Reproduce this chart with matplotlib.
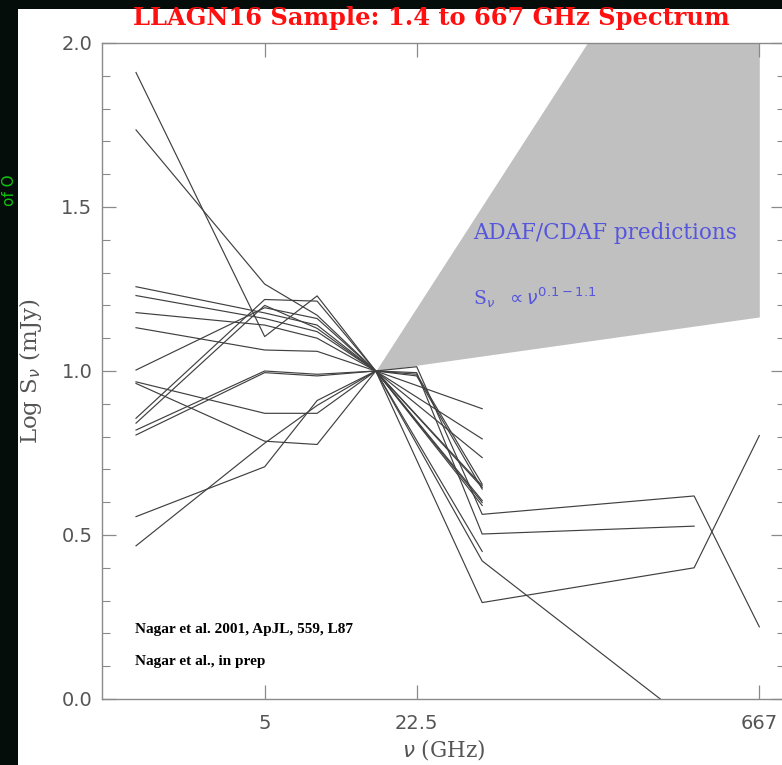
import numpy as np
import matplotlib.pyplot as plt
from matplotlib.patches import Rectangle
from matplotlib.ticker import FixedLocator, MultipleLocator, NullLocator, FormatStrFormatter

nan = np.nan

# observing frequencies (GHz); spectra are log S (mJy), normalised to 1.0 at 15 GHz
freq = [1.4, 5.0, 8.4, 15.0, 22.5, 43.0, 350.0, 667.0]

s01 = [1.910, 1.105, 1.229, 1.0, nan, 0.650, nan, nan]
s02 = [1.735, 1.265, 1.170, 1.0, nan, 0.736, nan, nan]
s03 = [1.257, 1.177, 1.140, 1.0, nan, 0.885, nan, nan]
s04 = [1.230, 1.160, 1.120, 1.0, 0.985, 0.640, nan, nan]
s05 = [1.178, 1.140, 1.100, 1.0, nan, 0.599, nan, nan]
s06 = [1.132, 1.064, 1.060, 1.0, nan, 0.793, nan, nan]
s07 = [1.003, 1.193, 1.160, 1.0, nan, 0.590, nan, nan]
s08 = [0.967, 0.871, 0.871, 1.0, 1.013, 0.563, 0.619, 0.220]
s09 = [0.962, 0.786, 0.776, 1.0, 0.995, 0.503, 0.527, nan]
s10 = [0.856, 1.218, 1.213, 1.0, 0.990, 0.655, nan, nan]
s11 = [0.841, 1.200, 1.130, 1.0, nan, 0.450, nan, nan]
s12 = [0.820, 1.000, 0.990, 1.0, nan, 0.421, -0.080, nan]
s13 = [0.805, 0.995, 0.985, 1.0, nan, 0.294, 0.400, 0.803]
s14 = [0.556, 0.708, 0.910, 1.0, nan, 0.605, nan, nan]
s15 = [0.467, 0.780, 0.895, 1.0, nan, 0.645, nan, nan]
spectra = [s01, s02, s03, s04, s05, s06, s07, s08, s09, s10, s11, s12, s13, s14, s15]

# ADAF/CDAF model wedge: S ~ nu^alpha from 15 to 667 GHz
adaf_freq = [15.0, 667.0]
adaf_alpha = [0.1, 1.1]

xticks = [5, 22.5, 667]
xticklabels = ['5', '22.5', '667']
yticks = [0.0, 0.5, 1.0, 1.5, 2.0]

W, H = 782, 765
fig = plt.figure(figsize=(W / 100, H / 100), dpi=100)
fig.patch.set_facecolor('white')

# dark slide border around the pasted plot
fig.patches.append(Rectangle((0, 0), 18 / W, 1, transform=fig.transFigure,
                             facecolor='#050d0b', edgecolor='none', zorder=0))
fig.patches.append(Rectangle((0, 1 - 9 / H), 1, 9 / H, transform=fig.transFigure,
                             facecolor='#050d0b', edgecolor='none', zorder=0))
fig.text(9 / W, 1 - 190 / H, 'of O', rotation=90, ha='center', va='center',
         color='#10c010', fontsize=11, family='DejaVu Sans')

ax = fig.add_axes([102 / W, 66 / H, 683 / W, 656 / H])
ax.set_xscale('log')
ax.set_xlim(1.0, 860)
ax.set_ylim(0, 2)

lr = np.log10(np.array(adaf_freq) / adaf_freq[0])
ax.fill_between(adaf_freq, 1.0 + adaf_alpha[0] * lr, 1.0 + adaf_alpha[1] * lr,
                color='#c0c0c0', lw=0, zorder=1)

f = np.array(freq)
for s in spectra:
    s = np.array(s)
    ok = np.isfinite(s)
    ax.plot(f[ok], s[ok], color='#404040', lw=0.85, zorder=2)

ax.xaxis.set_major_locator(FixedLocator(xticks))
ax.xaxis.set_minor_locator(NullLocator())
ax.set_xticklabels(xticklabels)
ax.yaxis.set_major_locator(FixedLocator(yticks))
ax.yaxis.set_minor_locator(MultipleLocator(0.1))
ax.yaxis.set_major_formatter(FormatStrFormatter('%.1f'))

for sp in ax.spines.values():
    sp.set_color('#8a8a8a')
    sp.set_linewidth(1.0)
ax.tick_params(which='both', direction='in', top=True, right=True, color='#8a8a8a',
               labelcolor='#555555', labelsize=14)
ax.tick_params(which='major', length=10, width=0.9)
ax.tick_params(which='minor', length=5.5, width=0.8)
ax.tick_params(axis='x', pad=11)
ax.tick_params(axis='y', pad=7)

ax.set_xlabel(r'$\nu$ (GHz)', family='DejaVu Serif', fontsize=15.5, color='#555555',
              labelpad=3)
ax.set_ylabel(r'Log S$_\nu$ (mJy)', family='DejaVu Serif', fontsize=16.5, color='#555555',
              labelpad=12)

fig.text(431 / W, 1 - 18 / H, 'LLAGN16 Sample: 1.4 to 667 GHz Spectrum', ha='center',
         va='center', color='#ff1010', fontsize=17.4, weight='bold', family='DejaVu Serif')

fig.text(473 / W, 1 - 233 / H, 'ADAF/CDAF predictions', ha='left', va='center',
         color='#5555dd', fontsize=15.5, family='DejaVu Serif')
fig.text(473 / W, 1 - 298 / H, r'S$_\nu$  $\propto \nu^{0.1-1.1}$', ha='left', va='center',
         color='#5555dd', fontsize=13.5, family='DejaVu Serif')

fig.text(135 / W, 1 - 630 / H, 'Nagar et al. 2001, ApJL, 559, L87', ha='left', va='center',
         color='black', fontsize=11, weight='bold', family='Liberation Serif')
fig.text(135 / W, 1 - 661 / H, 'Nagar et al., in prep', ha='left', va='center',
         color='black', fontsize=11, weight='bold', family='Liberation Serif')

fig.savefig('out.png', dpi=100)
